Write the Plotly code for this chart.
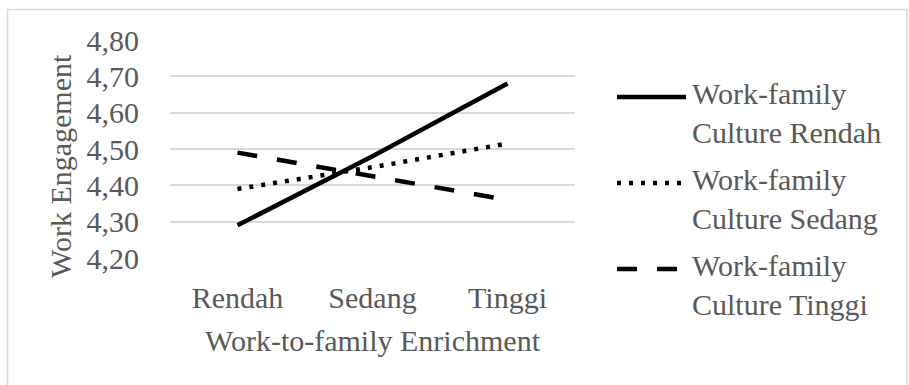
import plotly.graph_objects as go

# Work-to-family Enrichment levels (x categories)
enrichment = ["Rendah", "Sedang", "Tinggi"]

# Work Engagement means for each Work-family Culture level
culture_rendah = [4.29, 4.48, 4.68]
culture_sedang = [4.39, 4.45, 4.515]
culture_tinggi = [4.49, 4.425, 4.36]

series_names = [
    "Work-family<br>Culture Rendah",
    "Work-family<br>Culture Sedang",
    "Work-family<br>Culture Tinggi",
]

y_ticks = [4.20, 4.30, 4.40, 4.50, 4.60, 4.70, 4.80]

FONT = "Liberation Serif, Times New Roman, serif"
FS = 30
TEXT = "#595959"
GRID = "#d9d9d9"

W, H = 909, 385
L, R, T, B = 170, 334, 40, 127
pw, ph = W - L - R, H - T - B


def px_x(px):
    return (px - L) / pw


def px_y(py):
    return (H - B - py) / ph


dashes = ["solid", "4px,8px", "20px,20px"]
series = [culture_rendah, culture_sedang, culture_tinggi]

fig = go.Figure()
for name, vals, dash in zip(series_names, series, dashes):
    fig.add_trace(go.Scatter(
        x=enrichment, y=vals, mode="lines", name=name, showlegend=False,
        line=dict(color="black", width=4.5, dash=dash),
    ))

# Chart frame
shapes = [dict(
    type="rect", xref="paper", yref="paper",
    x0=px_x(7.5), x1=px_x(907), y0=px_y(387), y1=px_y(9.5),
    line=dict(color=GRID, width=1.5), fillcolor="rgba(0,0,0,0)", layer="below",
)]

# Vertical axis title
annotations = [dict(
    xref="paper", yref="paper", x=px_x(60), y=px_y(166),
    xanchor="center", yanchor="middle", textangle=-90, showarrow=False,
    text="Work Engagement", font=dict(family=FONT, size=FS, color=TEXT),
)]

# Legend on the right: line sample plus two-line label per series
for i, (name, dash) in enumerate(zip(series_names, dashes)):
    y_line = 97 + 86 * i
    shapes.append(dict(
        type="line", xref="paper", yref="paper",
        x0=px_x(617), x1=px_x(686), y0=px_y(y_line), y1=px_y(y_line),
        line=dict(color="black", width=4.5, dash=dash),
    ))
    annotations.append(dict(
        xref="paper", yref="paper", x=px_x(690), y=px_y(y_line + 16),
        xanchor="left", yanchor="middle", align="left", showarrow=False,
        text=name, font=dict(family=FONT, size=FS, color=TEXT),
    ))

fig.update_layout(
    width=W, height=H,
    margin=dict(l=L, r=R, t=T, b=B, autoexpand=False),
    paper_bgcolor="white", plot_bgcolor="white",
    separators=", ",
    font=dict(family=FONT, size=FS, color=TEXT),
    showlegend=False,
    xaxis=dict(
        range=[-0.5, 2.5], showgrid=False, zeroline=False, showline=False,
        ticklabelstandoff=19,
        title=dict(text="Work-to-family Enrichment", standoff=16,
                   font=dict(family=FONT, size=FS, color=TEXT)),
    ),
    yaxis=dict(
        range=[4.2, 4.8], tickvals=y_ticks, tickformat=".2f",
        showgrid=True, gridcolor=GRID, gridwidth=1.5, zeroline=False, showline=False,
        ticklabelstandoff=30,
    ),
    shapes=shapes,
    annotations=annotations,
)

fig.write_html("out.html")
